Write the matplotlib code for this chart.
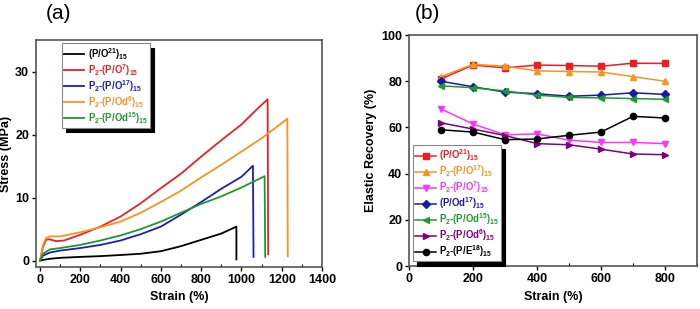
import matplotlib
matplotlib.use("Agg")
import matplotlib.pyplot as plt
from matplotlib.ticker import MultipleLocator

plt.rcParams['font.family'] = ['Liberation Sans', 'DejaVu Sans']
plt.rcParams['font.weight'] = 'bold'
plt.rcParams['mathtext.fontset'] = 'custom'
plt.rcParams['mathtext.rm'] = 'Liberation Sans:bold'
plt.rcParams['mathtext.bf'] = 'Liberation Sans:bold'
plt.rcParams['mathtext.it'] = 'Liberation Sans:bold'
plt.rcParams['mathtext.default'] = 'bf'

# ---------------- Panel (a) data: stress-strain ----------------
labels_a = ['(P/O$^{21}$)$_{15}$', 'P$_2$-(P/O$^{7}$)$_{15}$', 'P$_2$-(P/O$^{17}$)$_{15}$',
            'P$_2$-(P/Od$^{6}$)$_{15}$', 'P$_2$-(P/Od$^{15}$)$_{15}$']
colors_a = ['black', '#e62228', '#1c1cc0', '#f7941d', '#1d9a2d']

strain_black = [0, 20, 50, 100, 200, 300, 400, 500, 600, 700, 800, 900, 975, 975]
stress_black = [0, 0.15, 0.3, 0.45, 0.6, 0.72, 0.9, 1.1, 1.5, 2.3, 3.3, 4.3, 5.4, 0.2]

strain_red = [0, 15, 30, 45, 80, 120, 200, 300, 400, 500, 600, 700, 800, 900, 1000, 1070, 1130, 1133]
stress_red = [0, 2.2, 3.3, 3.4, 3.1, 3.2, 4.1, 5.4, 7.0, 9.1, 11.5, 13.8, 16.5, 19.1, 21.6, 23.8, 25.6, 1.0]

strain_blue = [0, 15, 50, 100, 200, 300, 400, 500, 600, 700, 800, 900, 1000, 1057, 1060]
stress_blue = [0, 0.8, 1.3, 1.6, 2.0, 2.5, 3.2, 4.2, 5.4, 7.3, 9.3, 11.4, 13.3, 15.05, 0.6]

strain_orange = [0, 15, 30, 50, 100, 200, 300, 400, 500, 600, 700, 800, 900, 1000, 1100, 1228, 1230]
stress_orange = [0, 2.5, 3.6, 3.85, 3.85, 4.5, 5.3, 6.2, 7.6, 9.3, 11.1, 13.2, 15.2, 17.3, 19.4, 22.5, 0.7]

strain_green = [0, 15, 50, 100, 200, 300, 400, 500, 600, 700, 800, 900, 1000, 1115, 1118]
stress_green = [0, 1.1, 1.8, 2.0, 2.5, 3.2, 4.0, 5.0, 6.2, 7.6, 9.0, 10.2, 11.6, 13.4, 0.6]

curves_a = [(strain_black, stress_black), (strain_red, stress_red), (strain_blue, stress_blue),
            (strain_orange, stress_orange), (strain_green, stress_green)]

# ---------------- Panel (b) data: elastic recovery ----------------
strain_b = [100, 200, 300, 400, 500, 600, 700, 800]
rec_PO21 = [81, 87, 85.8, 87, 86.8, 86.5, 87.8, 87.7]
rec_P2PO17 = [82, 87.3, 86.5, 84.5, 84.2, 84, 82, 80]
rec_P2PO7 = [68, 61.5, 56.8, 57.2, 54.5, 53.5, 53.5, 53]
rec_POd17 = [80, 77.6, 75.3, 74.6, 73.5, 74, 75, 74.3]
rec_P2POd15 = [78, 77.2, 75.8, 74, 73, 72.8, 72.5, 72.2]
rec_P2POd6 = [62, 59.3, 56.5, 53, 52.5, 50.6, 48.5, 48.2]
rec_P2PE18 = [59, 58, 54.7, 55, 56.6, 58, 64.8, 64.1]

labels_b = ['(P/O$^{21}$)$_{15}$', 'P$_2$-(P/O$^{17}$)$_{15}$', 'P$_2$-(P/O$^{7}$)$_{15}$',
            '(P/Od$^{17}$)$_{15}$', 'P$_2$-(P/Od$^{15}$)$_{15}$', 'P$_2$-(P/Od$^{6}$)$_{15}$',
            'P$_2$-(P/E$^{18}$)$_{15}$']
series_b = [rec_PO21, rec_P2PO17, rec_P2PO7, rec_POd17, rec_P2POd15, rec_P2POd6, rec_P2PE18]
colors_b = ['#ee1c24', '#f7941d', '#ff33ff', '#1a1aa6', '#1d9a2d', '#800080', 'black']
markers_b = ['s', '^', 'v', 'D', '<', '>', 'o']

fig = plt.figure(figsize=(7.0, 3.09), dpi=100)

spine_col = '#555555'
tick_fs = 9

def style_axes(ax):
    for s in ax.spines.values():
        s.set_color(spine_col)
        s.set_linewidth(1.2)
    ax.tick_params(axis='both', which='major', direction='out', length=3, width=1,
                   labelsize=tick_fs, colors='black', pad=2)
    ax.tick_params(axis='x', which='minor', direction='in', length=2.5, width=0.8)
    for lab in ax.get_xticklabels() + ax.get_yticklabels():
        lab.set_fontweight('bold')

leg_kw = dict(fontsize=6.9, labelcolor='linecolor', handlelength=2.1, handletextpad=0.35,
              borderpad=0.25, borderaxespad=0.0, labelspacing=0.02, fancybox=False,
              shadow={'color': 'black', 'alpha': 1, 'ox': 3, 'oy': -3},
              framealpha=1, edgecolor='#888888')

# Panel (a)
ax1 = fig.add_axes([0.0514, 0.136, 0.4086, 0.7346])
for (x, y), c, lab in zip(curves_a, colors_a, labels_a):
    ax1.plot(x, y, color=c, lw=1.3, label=lab)
ax1.set_xlim(-20, 1400)
ax1.set_ylim(-1, 35)
ax1.xaxis.set_major_locator(MultipleLocator(200))
ax1.xaxis.set_minor_locator(MultipleLocator(100))
ax1.yaxis.set_major_locator(MultipleLocator(10))
ax1.set_xlabel('Strain (%)', fontsize=9, fontweight='bold', labelpad=4)
ax1.set_ylabel('Stress (MPa)', fontsize=9, fontweight='bold', labelpad=2)
style_axes(ax1)
leg1 = ax1.legend(loc='upper left', bbox_to_anchor=(0.09, 0.985), **leg_kw)
leg1.get_frame().set_linewidth(0.8)
fig.text(0.065, 0.955, '(a)', fontsize=15, fontweight='normal', va='center', ha='left')

# Panel (b)
ax2 = fig.add_axes([0.5843, 0.139, 0.4114, 0.7476])
for y, c, m, lab in zip(series_b, colors_b, markers_b, labels_b):
    ax2.plot(strain_b, y, color=c, marker=m, ms=4.5 if m != 'D' else 3.8, lw=1.1, label=lab)
ax2.set_xlim(0, 900)
ax2.set_ylim(0, 100)
ax2.xaxis.set_major_locator(MultipleLocator(200))
ax2.xaxis.set_minor_locator(MultipleLocator(100))
ax2.yaxis.set_major_locator(MultipleLocator(20))
ax2.set_xlabel('Strain (%)', fontsize=9, fontweight='bold', labelpad=4)
ax2.set_ylabel('Elastic Recovery (%)', fontsize=9, fontweight='bold', labelpad=3)
style_axes(ax2)
leg2 = ax2.legend(loc='lower left', bbox_to_anchor=(0.014, 0.02), **leg_kw)
leg2.get_frame().set_linewidth(0.8)
fig.text(0.593, 0.955, '(b)', fontsize=15, fontweight='normal', va='center', ha='left')

fig.savefig('out.png', dpi=100)
